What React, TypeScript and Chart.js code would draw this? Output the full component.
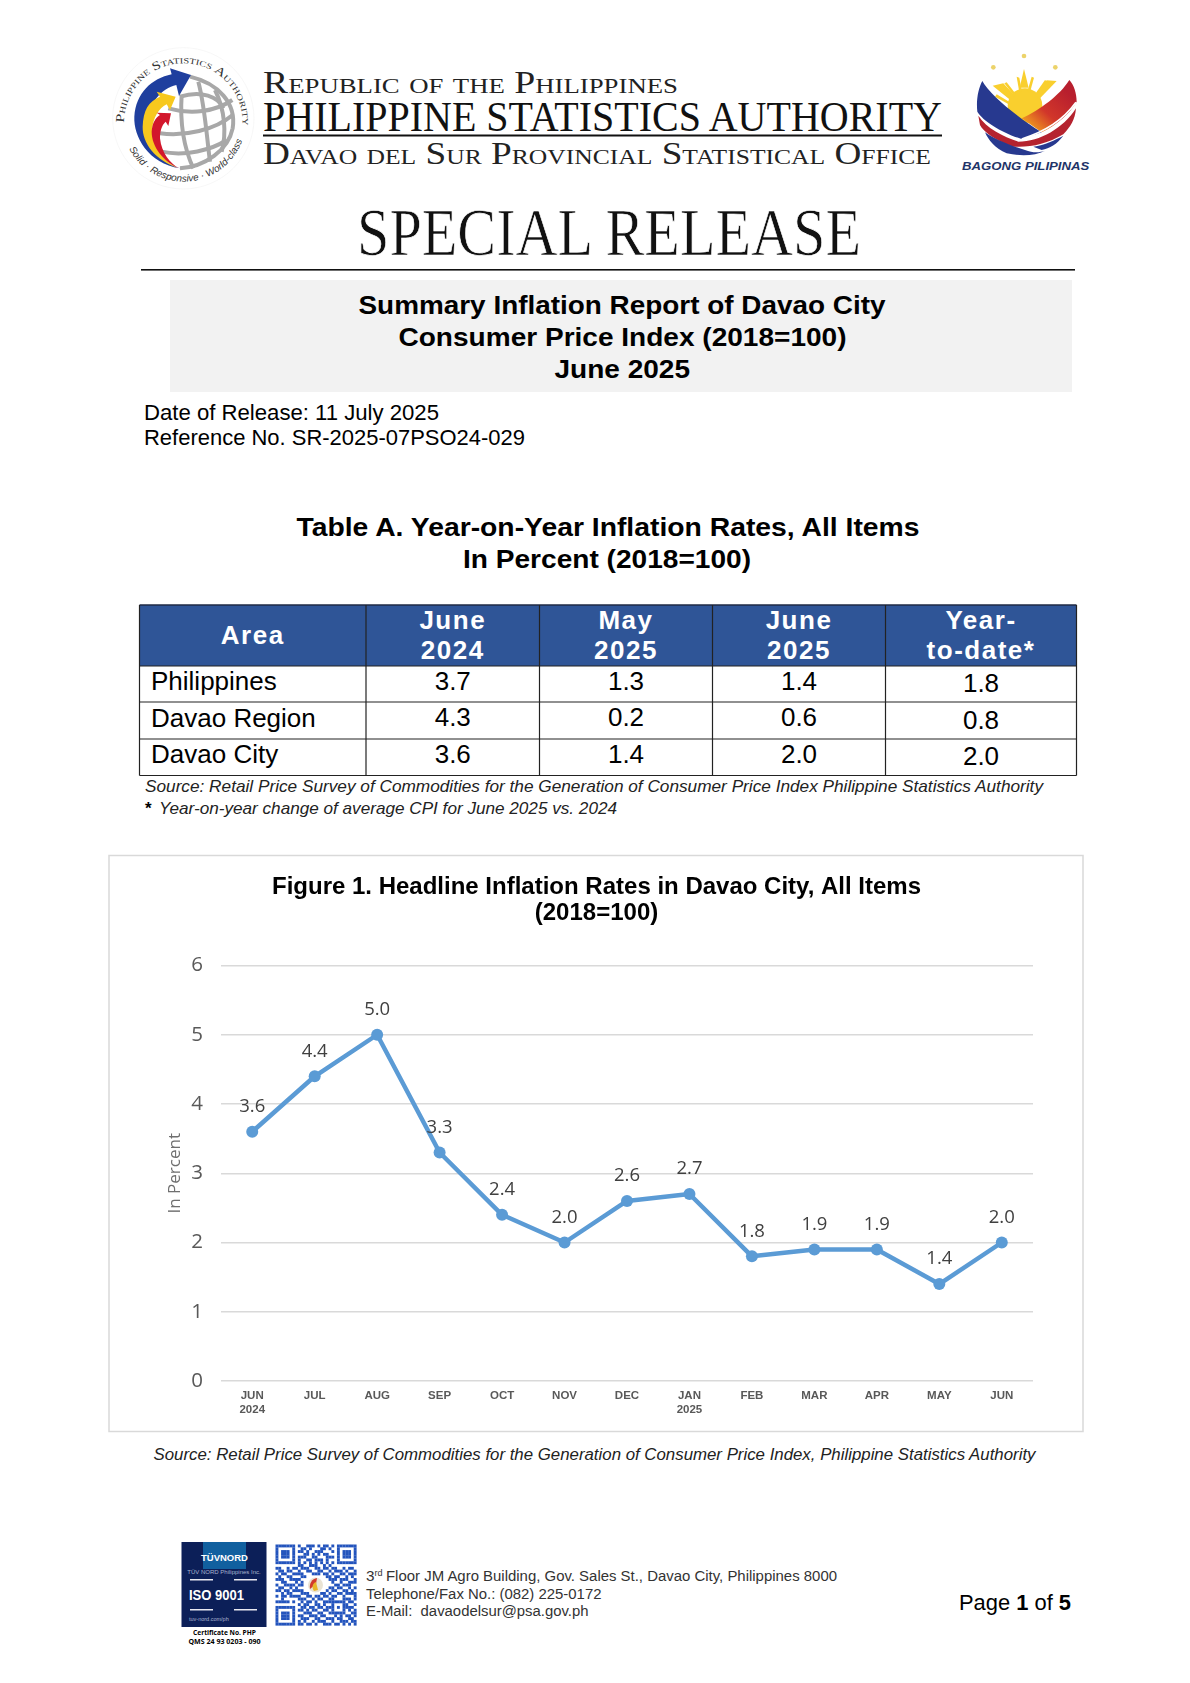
import React, { useEffect, useRef } from "react";
import { Chart, registerables } from "chart.js";

Chart.register(...registerables);

const months = [["JUN", "2024"], "JUL", "AUG", "SEP", "OCT", "NOV", "DEC", ["JAN", "2025"], "FEB", "MAR", "APR", "MAY", "JUN"];
const inflation = [3.6, 4.4, 5.0, 3.3, 2.4, 2.0, 2.6, 2.7, 1.8, 1.9, 1.9, 1.4, 2.0];
const yMin = 0;
const yMax = 6;

const tableHead = [["June", "2024"], ["May", "2025"], ["June", "2025"], ["Year-", "to-date*"]];
const tableAreas = ["Philippines", "Davao Region", "Davao City"];
const tableRows = [
  ["3.7", "1.3", "1.4", "1.8"],
  ["4.3", "0.2", "0.6", "0.8"],
  ["3.6", "1.4", "2.0", "2.0"],
];

const qrRows = [
  "11111110100111010110101111111",
  "10000010011010001101001000001",
  "10111010110100111000101011101",
  "10111010001101010110001011101",
  "10111010111001100011101011101",
  "10000010100110111010001000001",
  "11111110101010101010101111111",
  "00000000110011100101000000000",
  "11001011011100110110110010110",
  "01101100100110011001011101001",
  "10110011110001110110100110111",
  "01001100011000000011011001010",
  "11100111100000000001110111001",
  "00110001010000000000100100111",
  "10011110110000000000011011100",
  "01100101000000000001101100101",
  "11011011110000000010110011010",
  "00101100011100001101001101111",
  "10110111100110110110110010001",
  "00100000111001011001100011101",
  "11111010010110100111111110110",
  "00000000101100110100100011001",
  "11111110011011011011101011110",
  "10000010110101100110100010101",
  "10111010001110011001111110011",
  "10111010110011101100010101101",
  "10111010011100110011101100110",
  "10000010101001011100100111011",
  "11111110110110100111011010101",
];

const SANS = "'Liberation Sans', Arial, sans-serif";
const SERIF = "'Liberation Serif', serif";

const T = ({ x, y, w, s, b, i, fill = "#000", f = SANS, a, ls, v, thin, children }: any) => (
  <text
    x={x}
    y={y}
    fontSize={s}
    fontWeight={b ? 700 : 400}
    fontStyle={i ? "italic" : "normal"}
    fill={fill}
    fontFamily={f}
    textAnchor={a || "start"}
    letterSpacing={ls}
    stroke={thin ? "#fff" : undefined}
    strokeWidth={thin || undefined}
    style={v ? { fontVariant: "small-caps" } : undefined}
    {...(w ? { textLength: w, lengthAdjust: "spacingAndGlyphs" } : {})}
  >
    {children}
  </text>
);

const PsaLogo = () => (
  <g transform="translate(105,40) scale(0.3333)">
    <circle cx="235" cy="235" r="212" fill="none" stroke="#f3f3f3" strokeWidth="2" />
    <g fill="none" stroke="#a8a8a8" strokeWidth="12">
      <path d="M255 110 C340 130 395 190 383 265 C370 330 300 380 225 385" />
      <path d="M225 170 C290 150 340 170 355 205" />
      <path d="M190 205 C260 225 330 215 382 180" />
      <path d="M165 280 C240 290 330 270 383 225" />
      <path d="M170 335 C240 350 320 330 365 300" />
      <path d="M230 165 C225 240 235 320 265 385" />
      <path d="M280 125 C300 200 305 290 315 365" />
      <path d="M330 150 C360 210 365 280 350 335" />
    </g>
    <path d="M225 385 C130 370 85 290 88 230 C92 160 140 115 200 103 L195 85 L258 105 L222 168 L214 135 C170 145 130 190 125 250 C122 310 170 370 225 385 Z" fill="#1f3f9e" />
    <path d="M222 385 C150 360 112 310 113 260 C115 210 130 185 165 170 L155 155 L212 170 L195 210 L185 193 C160 205 145 235 142 265 C140 320 180 370 222 385 Z" fill="#f7c81e" />
    <path d="M222 385 C175 365 140 320 140 275 C142 250 150 235 165 225 L155 218 L198 220 L190 258 L182 245 C170 255 165 275 165 295 C170 340 195 370 222 385 Z" fill="#d2172c" />
    <path id="psaTop" d="M57 248 A178 178 0 0 1 413 248" fill="none" />
    <path id="psaBottom" d="M72 326 A186 186 0 0 0 410 306" fill="none" />
    <text fontFamily={SERIF} fontSize="36" fill="#333" style={{ fontVariant: "small-caps" }}>
      <textPath href="#psaTop" textLength="568" lengthAdjust="spacingAndGlyphs">Philippine Statistics Authority</textPath>
    </text>
    <text fontFamily={SANS} fontSize="29" fontStyle="italic" fill="#333">
      <textPath href="#psaBottom" textLength="430" lengthAdjust="spacingAndGlyphs">Solid · Responsive · World-class</textPath>
    </text>
  </g>
);

const BagongLogo = () => (
  <g transform="translate(950,45) scale(0.3333)">
    <defs>
      <linearGradient id="bpRed" x1="0.1" y1="0.9" x2="0.8" y2="0.2">
        <stop offset="0" stopColor="#f3a21e" />
        <stop offset="0.45" stopColor="#d1362a" />
        <stop offset="1" stopColor="#b81f2e" />
      </linearGradient>
    </defs>
    <g fill="#ecd36a">
      <circle cx="222" cy="33" r="7" />
      <circle cx="130" cy="67" r="7" />
      <circle cx="316" cy="67" r="7" />
    </g>
    <g fill="#f9cf2e">
      <circle cx="225" cy="182" r="52" />
      <path d="M222 72 L236 128 L209 128 Z" />
      <path d="M128 122 L160 115 L195 152 L180 164 Z" />
      <path d="M320 108 L290 106 L255 150 L268 162 Z" />
      <path d="M200 95 L208 98 L216 140 L208 142 Z" />
      <path d="M245 95 L252 98 L240 142 L232 140 Z" />
      <path d="M163 115 L170 112 L198 148 L192 152 Z" />
      <path d="M285 105 L292 110 L262 150 L256 146 Z" />
      <path d="M135 155 L140 148 L180 172 L176 178 Z" />
    </g>
    <path d="M358 105 C330 150 270 195 215 220 L275 262 C320 240 360 205 380 170 C380 145 372 120 358 105 Z" fill="url(#bpRed)" />
    <path d="M97 108 C120 150 200 215 275 262 L215 282 C160 265 100 230 82 200 C78 165 85 130 97 108 Z" fill="#27398f" />
    <path d="M85 212 C110 250 160 275 205 290 C270 290 340 250 378 190 C375 225 362 245 340 268 C290 298 240 308 190 305 C140 290 100 260 90 240 Z" fill="#b5232f" />
    <path d="M105 262 C130 280 175 300 225 315 C250 325 270 322 285 318 C255 332 215 335 170 325 C135 310 115 285 105 262 Z" fill="#27398f" />
    <path d="M340 272 C320 298 300 310 275 315 L250 305 C285 300 315 285 340 272 Z" fill="#27398f" />
    <path d="M378 172 C340 225 280 262 215 282" fill="none" stroke="#fff" strokeWidth="5" />
    <T x={36} y={376} w={382} s={34} b i fill="#1f3468">BAGONG PILIPINAS</T>
  </g>
);

const IsoBlock = () => (
  <g>
    <rect x="181.5" y="1542" width="85" height="85" fill="#0c1f58" />
    <rect x="203" y="1542" width="43" height="27" fill="#11609f" />
    <T x={224.5} y={1561} s={9.5} b fill="#fff" a="middle">TÜVNORD</T>
    <T x={224} y={1574} s={6} fill="#aab4d0" a="middle">TÜV NORD Philippines Inc.</T>
    <rect x="190" y="1579" width="23" height="1.5" fill="#e8e8f0" />
    <rect x="234" y="1579" width="23" height="1.5" fill="#e8e8f0" />
    <T x={189} y={1600} w={55} s={14} b fill="#fff">ISO 9001</T>
    <rect x="190" y="1609" width="23" height="1.5" fill="#e8e8f0" />
    <rect x="234" y="1609" width="23" height="1.5" fill="#e8e8f0" />
    <T x={189} y={1621} s={5.5} fill="#aab4d0">tuv-nord.com/ph</T>
    <T x={224.5} y={1635} w={63} s={7.5} b a="middle" f="'Open Sans', sans-serif">Certificate No. PHP</T>
    <T x={224.5} y={1644} w={72} s={7.5} b a="middle" f="'Open Sans', sans-serif">QMS 24 93 0203 - 090</T>
  </g>
);

const Qr = () => {
  const size = 81 / qrRows.length;
  return (
    <g fill="#2354bd">
      {qrRows.map((row, r) =>
        row.split("").map((c, k) =>
          c === "1" ? <rect key={r + "-" + k} x={275.5 + k * size} y={1544.5 + r * size} width={size + 0.1} height={size + 0.1} /> : null,
        ),
      )}
      <circle cx="315.5" cy="1585" r="7.5" fill="#e9e3d4" />
      <path d="M310 1589 C309 1583 312 1579 317 1578 L316 1584 Z" fill="#d23a2c" />
      <path d="M314 1591 C311 1587 313 1583 316 1582 L318 1590 Z" fill="#e8b62a" />
    </g>
  );
};

const X = [139.5, 366, 539.5, 712.5, 885.5, 1076.5];
const Y = [605, 666, 702, 739, 775.5];

const DataTable = () => (
  <g>
    <rect x={X[0]} y={Y[0]} width={X[5] - X[0]} height={Y[1] - Y[0]} fill="#2f5597" />
    <line x1={X[0]} x2={X[5]} y1={Y[0]} y2={Y[0]} stroke="#1f2a44" strokeWidth="1.3" />
    {Y.slice(1).map((y) => (
      <line key={y} x1={X[0]} x2={X[5]} y1={y} y2={y} stroke="#222" strokeWidth="1.2" />
    ))}
    {X.map((x) => (
      <line key={x} x1={x} x2={x} y1={Y[0]} y2={Y[4]} stroke="#222" strokeWidth="1.2" />
    ))}
    <T x={(X[0] + X[1]) / 2} y={643.5} s={26} b fill="#fff" a="middle" ls={1.5}>Area</T>
    {tableHead.map((h, c) => (
      <g key={c}>
        <T x={(X[c + 1] + X[c + 2]) / 2} y={629} s={26} b fill="#fff" a="middle" ls={1.5}>{h[0]}</T>
        <T x={(X[c + 1] + X[c + 2]) / 2} y={659} s={26} b fill="#fff" a="middle" ls={1.5}>{h[1]}</T>
      </g>
    ))}
    {tableAreas.map((area, r) => (
      <g key={area}>
        <T x={151} y={690 + r * 36.6} s={26}>{area}</T>
        {tableRows[r].map((v, c) => (
          <T key={c} x={(X[c + 1] + X[c + 2]) / 2} y={689.5 + r * 36.6 + (c === 3 ? 2.5 : 0)} s={26} a="middle">{v}</T>
        ))}
      </g>
    ))}
  </g>
);

const Page = () => (
  <svg width="1190" height="1683" viewBox="0 0 1190 1683" style={{ position: "absolute", left: 0, top: 0 }}>
    <rect width="1190" height="1683" fill="#fff" />
    <PsaLogo />
    <T x={263} y={93} w={415} s={31} f={SERIF} v fill="#222">Republic of the Philippines</T>
    <T x={263} y={131} w={679} s={43} f={SERIF} fill="#111">PHILIPPINE STATISTICS AUTHORITY</T>
    <rect x="263" y="134.5" width="679" height="2" fill="#111" />
    <T x={263} y={164} w={668} s={32} f={SERIF} v fill="#222">Davao del Sur Provincial Statistical Office</T>
    <BagongLogo />

    <T x={357} y={254.5} w={504} s={67} f={SERIF} fill="#111" thin={0.7}>SPECIAL RELEASE</T>
    <rect x="141" y="269" width="934" height="1.6" fill="#111" />
    <rect x="170" y="280" width="902" height="112" fill="#f2f2f2" />
    <T x={358.5} y={314} w={527} s={26.6} b>Summary Inflation Report of Davao City</T>
    <T x={398.5} y={346} w={448} s={26.6} b>Consumer Price Index (2018=100)</T>
    <T x={554.5} y={378} w={135.5} s={26.6} b>June 2025</T>
    <T x={144} y={420} w={295} s={21.5}>Date of Release: 11 July 2025</T>
    <T x={144} y={444.5} w={381} s={21.5}>Reference No. SR-2025-07PSO24-029</T>

    <T x={296.5} y={535.5} w={623} s={26.6} b>Table A. Year-on-Year Inflation Rates, All Items</T>
    <T x={463} y={568} w={288} s={26.6} b>In Percent (2018=100)</T>
    <DataTable />
    <T x={145} y={791.5} w={898} s={16.5} i fill="#222">Source: Retail Price Survey of Commodities for the Generation of Consumer Price Index Philippine Statistics Authority</T>
    <T x={145} y={814} s={17} b>*</T>
    <T x={159} y={814} w={458} s={16.5} i fill="#222">Year-on-year change of average CPI for June 2025 vs. 2024</T>

    <rect x="109" y="855.5" width="974" height="576" fill="#fff" stroke="#d9d9d9" strokeWidth="1.5" />
    <T x={153.5} y={1460} w={882} s={17.3} i fill="#222">Source: Retail Price Survey of Commodities for the Generation of Consumer Price Index, Philippine Statistics Authority</T>

    <IsoBlock />
    <Qr />
    <T x={366} y={1581} s={15.3} fill="#333">3</T>
    <T x={374.5} y={1576} s={9} fill="#333">rd</T>
    <T x={386} y={1581} w={451} s={15.3} fill="#333">Floor JM Agro Building, Gov. Sales St., Davao City, Philippines 8000</T>
    <T x={366} y={1599} w={235.5} s={15.3} fill="#333">Telephone/Fax No.: (082) 225-0172</T>
    <T x={366} y={1616} w={222.5} s={15.3} fill="#333">{"E-Mail:\u00a0\u00a0davaodelsur@psa.gov.ph"}</T>
    <text x={959} y={1610} fontSize="21.9" fontFamily={SANS} fill="#000">
      Page <tspan fontWeight="700">1</tspan> of <tspan fontWeight="700">5</tspan>
    </text>
  </svg>
);

const pointLabels = {
  id: "pointLabels",
  afterDatasetsDraw(chart: any) {
    const { ctx } = chart;
    const meta = chart.getDatasetMeta(0);
    ctx.save();
    ctx.font = "18.5px 'Open Sans', sans-serif";
    ctx.fillStyle = "#404040";
    ctx.textAlign = "center";
    ctx.textBaseline = "middle";
    meta.data.forEach((el: any, i: number) => {
      ctx.fillText(inflation[i].toFixed(1), el.x, el.y - 25);
    });
    ctx.restore();
  },
};

export default function App() {
  const ref = useRef<HTMLCanvasElement | null>(null);
  useEffect(() => {
    document.body.style.margin = "0";
    const chart = new Chart(ref.current as HTMLCanvasElement, {
      type: "line",
      data: {
        labels: months as any,
        datasets: [
          {
            label: "Headline inflation",
            data: inflation,
            borderColor: "#5b9bd5",
            backgroundColor: "#5b9bd5",
            borderWidth: 4.5,
            pointRadius: 6,
            pointHoverRadius: 6,
            pointBorderWidth: 0,
            tension: 0,
            borderCapStyle: "round",
            borderJoinStyle: "round",
          },
        ],
      },
      options: {
        animation: false,
        responsive: false,
        events: [],
        layout: { padding: { top: 0, right: 50, bottom: 0, left: 50 } },
        plugins: {
          legend: { display: false },
          tooltip: { enabled: false },
          title: {
            display: true,
            text: ["Figure 1. Headline Inflation Rates in Davao City, All Items", "(2018=100)"],
            color: "#000",
            font: { family: "'Liberation Sans', Arial, sans-serif", size: 24, weight: "bold", lineHeight: 1.1 },
            padding: { top: 17, bottom: 38.7 },
          },
        },
        scales: {
          x: {
            type: "category",
            offset: true,
            afterFit: (s: any) => {
              s.height = 50;
            },
            grid: { display: false },
            border: { display: false },
            ticks: {
              autoSkip: false,
              maxRotation: 0,
              padding: 0,
              color: "#595959",
              font: { family: "'Liberation Sans', Arial, sans-serif", size: 11.5, weight: "bold", lineHeight: 1.22 },
            },
          },
          y: {
            min: yMin,
            max: yMax,
            afterFit: (s: any) => {
              s.width = 61;
            },
            grid: { color: "#d9d9d9", lineWidth: 1.5, drawTicks: false },
            border: { display: false },
            ticks: {
              stepSize: 1,
              padding: 18,
              color: "#595959",
              font: { family: "'Open Sans', sans-serif", size: 20.5 },
            },
            title: {
              display: true,
              text: "In Percent",
              color: "#6f6f6f",
              font: { family: "'Open Sans', sans-serif", size: 17 },
              padding: { top: 5, bottom: 0 },
            },
          },
        },
      } as any,
      plugins: [pointLabels],
    });
    return () => chart.destroy();
  }, []);
  return (
    <div style={{ position: "absolute", left: 0, top: 0, width: 1190, height: 1683, overflow: "hidden", background: "#fff" }}>
      <Page />
      <canvas ref={ref} width={973} height={574} style={{ position: "absolute", left: 110, top: 857, width: 973, height: 574 }} />
    </div>
  );
}
